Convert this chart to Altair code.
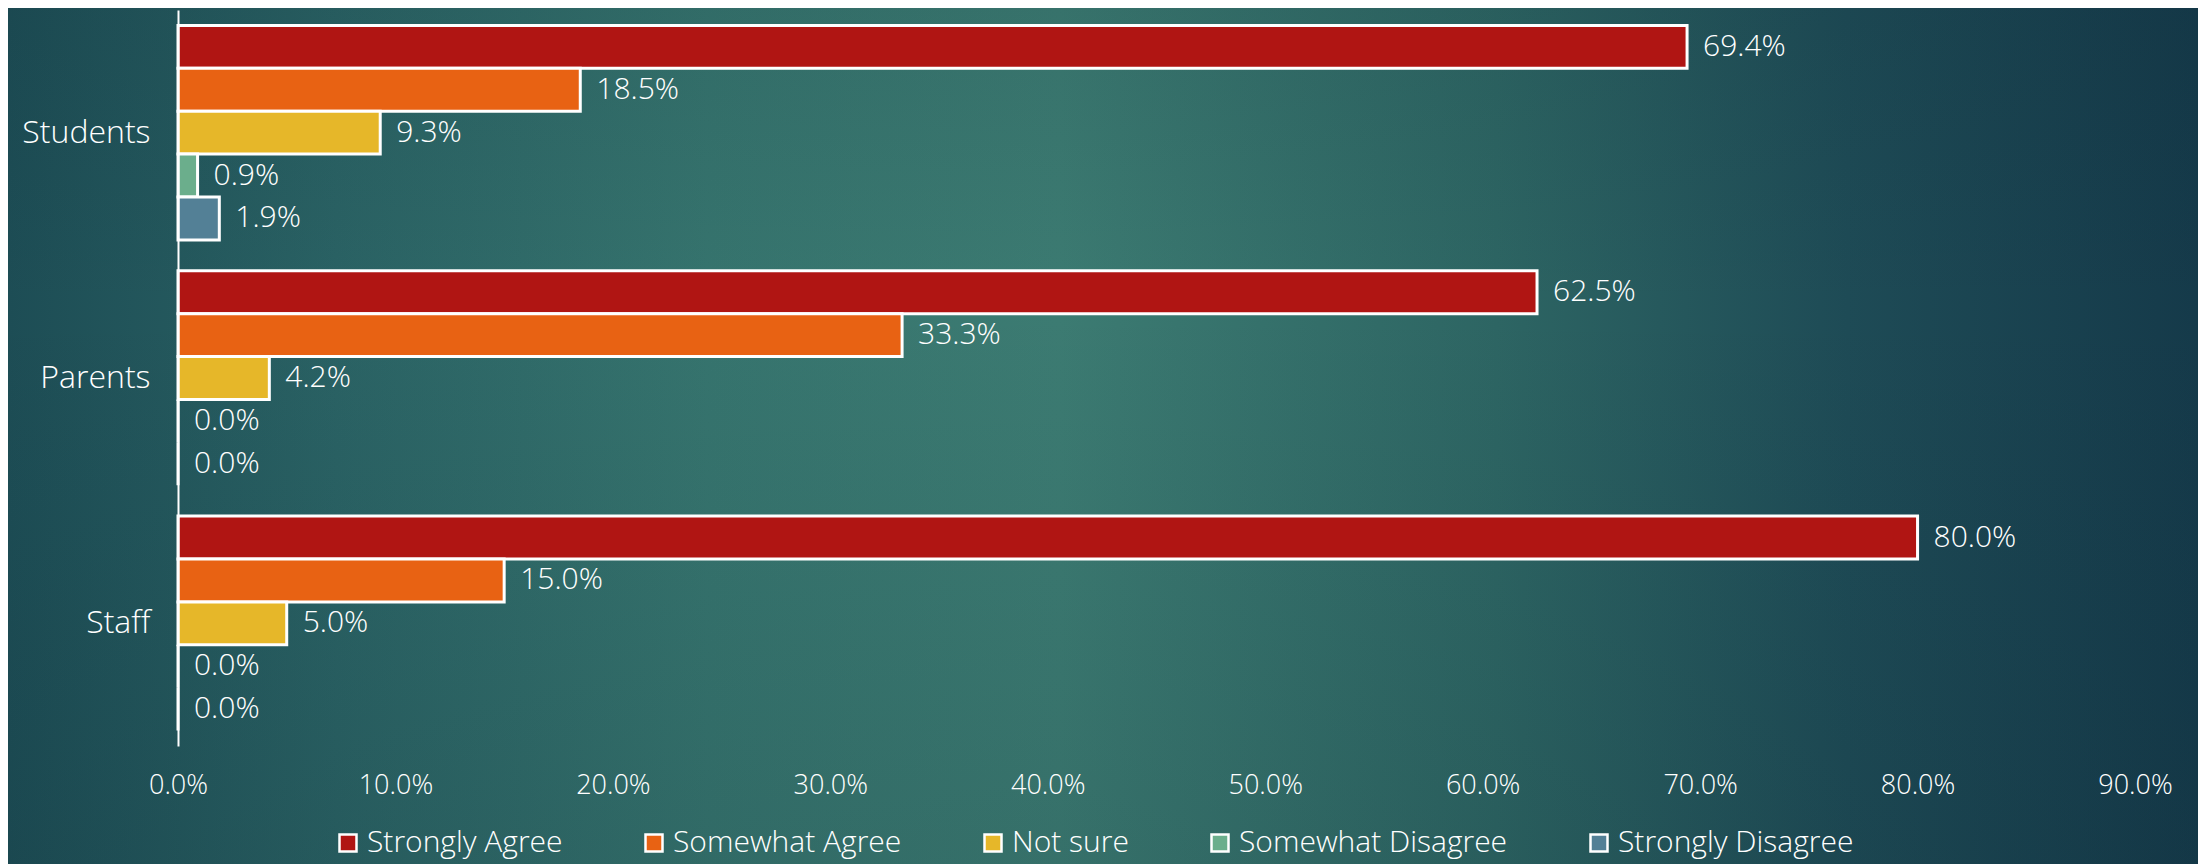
import altair as alt
import pandas as pd

groups = ["Students", "Parents", "Staff"]
responses = ["Strongly Agree", "Somewhat Agree", "Not sure", "Somewhat Disagree", "Strongly Disagree"]
colors = ["#B01513", "#E86213", "#E6B729", "#6BAE8C", "#538096"]
students = [69.4, 18.5, 9.3, 0.9, 1.9]
parents = [62.5, 33.3, 4.2, 0.0, 0.0]
staff = [80.0, 15.0, 5.0, 0.0, 0.0]
x_ticks = [0.0, 0.1, 0.2, 0.3, 0.4, 0.5, 0.6, 0.7, 0.8, 0.9]

rows = []
for g, vals in zip(groups, [students, parents, staff]):
    for r, v in zip(responses, vals):
        rows.append({"group": g, "response": r, "value": v / 100.0})
df = pd.DataFrame(rows)

W, H = 1957, 736
PL, PT, PR, PB = 170, 2, 63, 118
FONT = "Open Sans"
FW = 300

bg = alt.Chart(alt.Data(values=[{"k": 1}])).mark_rect(
    color=alt.LinearGradient(
        gradient="linear", x1=0, x2=1, y1=0, y2=0,
        stops=[
            alt.GradientStop(color="#1d4d55", offset=0.0),
            alt.GradientStop(color="#2a6264", offset=0.15),
            alt.GradientStop(color="#36746e", offset=0.32),
            alt.GradientStop(color="#3c7b72", offset=0.48),
            alt.GradientStop(color="#2d6563", offset=0.68),
            alt.GradientStop(color="#1e4b56", offset=0.84),
            alt.GradientStop(color="#153a4a", offset=1.0),
        ],
    )
).encode(
    x=alt.value(-PL), x2=alt.value(W + PR), y=alt.value(-PT), y2=alt.value(H + PB)
)

shade = alt.Chart(alt.Data(values=[{"k": 1}])).mark_rect(
    color=alt.LinearGradient(
        gradient="linear", x1=0, x2=0, y1=0, y2=1,
        stops=[
            alt.GradientStop(color="rgba(10,35,45,0.10)", offset=0.0),
            alt.GradientStop(color="rgba(10,35,45,0.0)", offset=0.35),
            alt.GradientStop(color="rgba(10,35,45,0.12)", offset=1.0),
        ],
    )
).encode(
    x=alt.value(-PL), x2=alt.value(W + PR), y=alt.value(-PT), y2=alt.value(H + PB)
)

base = alt.Chart(df).encode(
    y=alt.Y(
        "group:N", sort=groups, title=None,
        scale=alt.Scale(paddingInner=0.126, paddingOuter=0.063),
        axis=alt.Axis(
            domain=True, domainColor="white", domainWidth=2, ticks=False,
            labelPadding=28, labelFontSize=32, labelColor="white",
            labelFont=FONT, labelFontWeight=FW, zindex=2,
        ),
    ),
    yOffset=alt.YOffset(
        "response:N", sort=responses,
        scale=alt.Scale(paddingInner=0, paddingOuter=0),
    ),
    x=alt.X(
        "value:Q", title=None,
        scale=alt.Scale(domain=[0, 0.9], nice=False, zero=True),
        axis=alt.Axis(
            values=x_ticks, format=".1%", domain=False, ticks=False, grid=False,
            labelPadding=26, labelFontSize=27, labelColor="white",
            labelFont=FONT, labelFontWeight=FW, labelFlush=False,
            labelOverlap=False, zindex=2,
        ),
    ),
)

bars = base.mark_bar(stroke="white", strokeWidth=3).encode(
    color=alt.Color(
        "response:N", sort=responses, title=None,
        scale=alt.Scale(domain=responses, range=colors),
        legend=alt.Legend(
            orient="none", legendX=155, legendY=818,
            direction="horizontal", symbolType="square",
            symbolSize=289, symbolStrokeColor="white", symbolStrokeWidth=2.5,
            labelColor="white", labelFontSize=30, labelFont=FONT,
            labelFontWeight=FW, columnPadding=76, labelOffset=4,
            labelLimit=0, padding=0, zindex=2,
        ),
    )
)

labels = base.mark_text(
    align="left", baseline="middle", dx=16, color="white",
    fontSize=30, font=FONT, fontWeight=FW,
).encode(text=alt.Text("value:Q", format=".1%"))

chart = alt.layer(bg, shade, bars, labels).properties(
    width=W, height=H,
    autosize=alt.AutoSizeParams(type="none"),
    padding={"left": PL, "top": PT, "right": PR, "bottom": PB},
    background="#24555a",
).configure_view(stroke=None)

chart.save("out.html", embed_options={"renderer": "svg", "actions": False})
